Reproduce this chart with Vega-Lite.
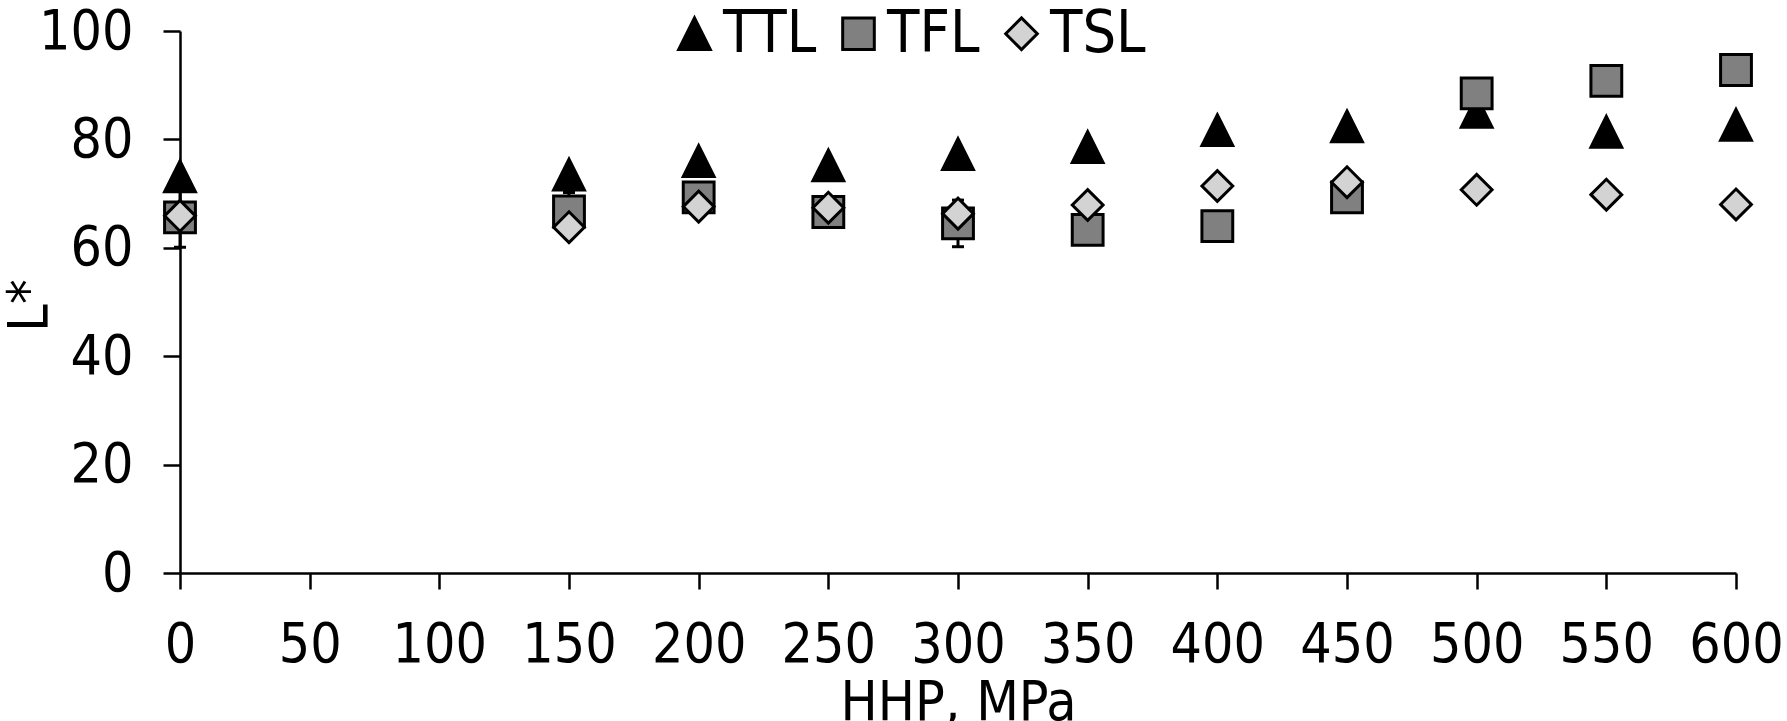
{
  "$schema": "https://vega.github.io/schema/vega-lite/v6.json",
  "width": 1556,
  "height": 542,
  "autosize": {"type": "none"},
  "padding": {"left": 180, "top": 31, "right": 51, "bottom": 148},
  "background": "white",
  "config": {
    "view": {"stroke": null},
    "font": "DejaVu Sans Condensed, DejaVu Sans, sans-serif",
    "axis": {
      "grid": false,
      "domainColor": "black",
      "domainWidth": 2.5,
      "tickColor": "black",
      "tickWidth": 2.5,
      "labelColor": "black",
      "labelFontSize": 55,
      "titleFontSize": 55,
      "titleFontWeight": "normal",
      "titleColor": "black"
    },
    "legend": {
      "orient": "none",
      "legendX": 485,
      "legendY": -27,
      "direction": "horizontal",
      "labelFontSize": 59,
      "labelColor": "black",
      "symbolSize": 1000,
      "symbolStrokeColor": "black",
      "symbolStrokeWidth": 3,
      "labelOffset": -1,
      "columnPadding": 12
    }
  },
  "datasets": {
    "pts": [
      {"p": 0, "s": "TTL", "v": 73.2},
      {"p": 150, "s": "TTL", "v": 73.5},
      {"p": 200, "s": "TTL", "v": 76.0},
      {"p": 250, "s": "TTL", "v": 75.2},
      {"p": 300, "s": "TTL", "v": 77.3},
      {"p": 350, "s": "TTL", "v": 78.6},
      {"p": 400, "s": "TTL", "v": 81.7},
      {"p": 450, "s": "TTL", "v": 82.4},
      {"p": 500, "s": "TTL", "v": 85.1},
      {"p": 550, "s": "TTL", "v": 81.4},
      {"p": 600, "s": "TTL", "v": 82.7},
      {"p": 0, "s": "TFL", "v": 65.6},
      {"p": 150, "s": "TFL", "v": 66.7},
      {"p": 200, "s": "TFL", "v": 69.3},
      {"p": 250, "s": "TFL", "v": 66.6},
      {"p": 300, "s": "TFL", "v": 64.5},
      {"p": 350, "s": "TFL", "v": 63.3},
      {"p": 400, "s": "TFL", "v": 64.0},
      {"p": 450, "s": "TFL", "v": 69.3},
      {"p": 500, "s": "TFL", "v": 88.5},
      {"p": 550, "s": "TFL", "v": 90.8},
      {"p": 600, "s": "TFL", "v": 92.8},
      {"p": 0, "s": "TSL", "v": 65.9},
      {"p": 150, "s": "TSL", "v": 63.8},
      {"p": 200, "s": "TSL", "v": 67.6},
      {"p": 250, "s": "TSL", "v": 67.4},
      {"p": 300, "s": "TSL", "v": 66.3},
      {"p": 350, "s": "TSL", "v": 67.9},
      {"p": 400, "s": "TSL", "v": 71.4},
      {"p": 450, "s": "TSL", "v": 72.1},
      {"p": 500, "s": "TSL", "v": 70.7},
      {"p": 550, "s": "TSL", "v": 69.8},
      {"p": 600, "s": "TSL", "v": 68.0}
    ],
    "err": [
      {"p": 0, "lo": 60.1, "hi": 71.1},
      {"p": 150, "lo": 63.2, "hi": 70.2},
      {"p": 300, "lo": 60.2, "hi": 68.8}
    ]
  },
  "encoding": {
    "x": {
      "field": "p",
      "type": "quantitative",
      "title": "HHP, MPa",
      "scale": {"domain": [0, 600], "nice": false, "zero": false},
      "axis": {
        "values": [0, 50, 100, 150, 200, 250, 300, 350, 400, 450, 500, 550, 600],
        "tickSize": 16,
        "labelPadding": 29,
        "titlePadding": 4,
        "labelFlush": false,
        "labelOverlap": false
      }
    }
  },
  "layer": [
    {
      "data": {"name": "err"},
      "mark": {"type": "rule", "color": "black", "strokeWidth": 3},
      "encoding": {
        "y": {"field": "lo", "type": "quantitative", "title": "L*", "scale": {"domain": [0, 100], "nice": false}},
        "y2": {"field": "hi"}
      }
    },
    {
      "data": {"name": "err"},
      "mark": {"type": "tick", "orient": "horizontal", "color": "black", "size": 12, "thickness": 3, "opacity": 1},
      "encoding": {
        "y": {"field": "lo", "type": "quantitative", "title": "L*"}
      }
    },
    {
      "data": {"name": "err"},
      "mark": {"type": "tick", "orient": "horizontal", "color": "black", "size": 12, "thickness": 3, "opacity": 1},
      "encoding": {
        "y": {"field": "hi", "type": "quantitative", "title": "L*"}
      }
    },
    {
      "data": {"name": "pts"},
      "mark": {"type": "point", "filled": true, "size": 950, "strokeWidth": 3, "opacity": 1},
      "encoding": {
        "y": {
          "field": "v",
          "type": "quantitative",
          "title": "L*",
          "axis": {
            "values": [0, 20, 40, 60, 80, 100],
            "tickSize": 17,
            "labelPadding": 30,
            "titleX": -134,
            "titleY": 274,
            "titleAngle": -90,
            "titleAlign": "center",
            "titleBaseline": "alphabetic"
          }
        },
        "fill": {
          "field": "s",
          "type": "nominal",
          "scale": {"domain": ["TTL", "TFL", "TSL"], "range": ["#000000", "#808080", "#d3d3d3"]},
          "legend": {"title": null}
        },
        "stroke": {
          "field": "s",
          "type": "nominal",
          "scale": {"domain": ["TTL", "TFL", "TSL"], "range": ["#000000", "#000000", "#000000"]},
          "legend": {"title": null}
        },
        "shape": {
          "field": "s",
          "type": "nominal",
          "scale": {"domain": ["TTL", "TFL", "TSL"], "range": ["M0,-1L1,1L-1,1Z", "square", "diamond"]},
          "legend": {"title": null}
        }
      }
    }
  ],
  "resolve": {"scale": {"y": "shared"}}
}
